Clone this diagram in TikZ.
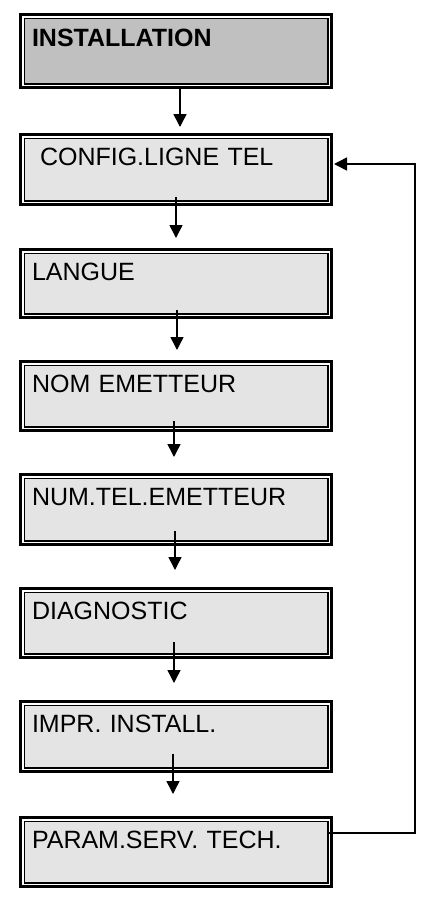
\documentclass[tikz,border=0pt]{standalone}
\usepackage{fontspec}
\setmainfont{Liberation Sans}
\usetikzlibrary{arrows.meta,calc}
\definecolor{hdrgray}{HTML}{C0C0C0}
\definecolor{boxgray}{HTML}{E4E4E4}
\tikzset{
  menubox/.style={draw, line width=1.5pt, fill=boxgray, outer sep=0pt,
    inner xsep=7.75pt, inner ysep=0pt, minimum width=303.5pt,
    text width=288pt, align=left, anchor=north,
    text height=26.75pt, text depth=#1,
    font=\fontsize{25pt}{30pt}\selectfont,
    append after command={
      \pgfextra{\draw[line width=3pt]
        ([shift={(-3.75pt,3.75pt)}]\tikzlastnode.north west) rectangle
        ([shift={(3.75pt,-3.75pt)}]\tikzlastnode.south east);}
    }},
  flow/.style={line width=1.5pt, -{Triangle[width=13pt,length=13pt]}},
  loopline/.style={line width=1.5pt, line join=miter, -{Triangle[width=13pt,length=13pt]}}
}
\begin{document}
\begin{tikzpicture}[x=1pt,y=1pt]
\useasboundingbox (0,0) rectangle (423,-898);
\node[menubox=37.75pt, fill=hdrgray, text height=27.75pt, font=\fontsize{25pt}{30pt}\selectfont\bfseries] (inst) at (176,-18.25) {INSTALLATION};
\node[menubox=35.75pt] (cfg) at (176,-138.25) {\hspace*{8pt}CONFIG.LIGNE TEL};
\node[menubox=33.75pt] (lang) at (176,-253.25) {LANGUE};
\node[menubox=34.75pt] (nom) at (176,-365.25) {NOM EMETTEUR};
\node[menubox=35.75pt] (num) at (176,-478.25) {NUM.TEL.EMETTEUR};
\node[menubox=34.75pt] (diag) at (176,-592.25) {DIAGNOSTIC};
\node[menubox=35.75pt] (impr) at (176,-705.25) {IMPR. INSTALL.};
\node[menubox=34.75pt] (param) at (176,-821.25) {PARAM.SERV. TECH.};

\draw[flow] ([xshift=4pt,yshift=-5.25pt]inst.south) -- ([xshift=4pt,yshift=11.25pt]cfg.north);
\draw[flow] ([xshift=0pt,yshift=3.75pt]cfg.south) -- ([xshift=0pt,yshift=15.25pt]lang.north);
\draw[flow] ([xshift=1pt,yshift=3.75pt]lang.south) -- ([xshift=1pt,yshift=15.25pt]nom.north);
\draw[flow] ([xshift=-2pt,yshift=5.75pt]nom.south) -- ([xshift=-2pt,yshift=21.25pt]num.north);
\draw[flow] ([xshift=-1pt,yshift=9.75pt]num.south) -- ([xshift=-1pt,yshift=22.25pt]diag.north);
\draw[flow] ([xshift=-2pt,yshift=11.75pt]diag.south) -- ([xshift=-2pt,yshift=22.25pt]impr.north);
\draw[flow] ([xshift=-3pt,yshift=13.75pt]impr.south) -- ([xshift=-3pt,yshift=27.25pt]param.north);

\coordinate (fbbot) at (415,-833);
\coordinate (fbtop) at (415,-164);
\draw[loopline] (param.east |- fbbot) -- (fbbot) -- (fbtop) -- ([xshift=6.25pt]cfg.east |- fbtop);
\end{tikzpicture}
\end{document}
